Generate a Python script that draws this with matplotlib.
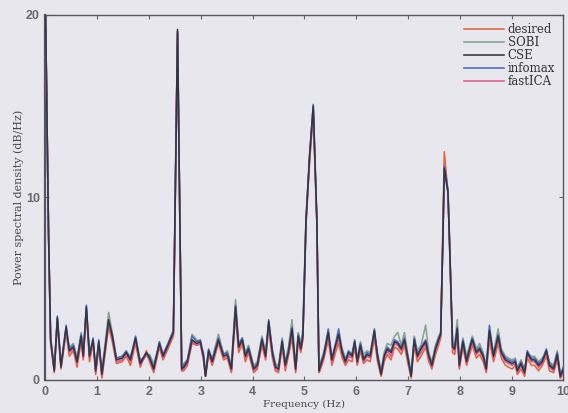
'''
power spectral density of the recovered sources vs desired signal
'''

import matplotlib
matplotlib.use('Agg')
import matplotlib.pyplot as plt

freq = [
0.00, 0.06, 0.10, 0.17, 0.23, 0.30, 0.40, 0.46, 0.54, 0.61,
0.69, 0.73, 0.79, 0.85, 0.92, 0.97, 1.03, 1.09, 1.22, 1.29,
1.37, 1.48, 1.56, 1.64, 1.74, 1.83, 1.95, 2.01, 2.09, 2.20,
2.27, 2.35, 2.41, 2.47, 2.55, 2.63, 2.67, 2.74, 2.83, 2.92,
2.99, 3.05, 3.09, 3.15, 3.22, 3.34, 3.44, 3.51, 3.59, 3.67,
3.73, 3.80, 3.86, 3.92, 4.02, 4.09, 4.18, 4.25, 4.31, 4.38,
4.44, 4.50, 4.57, 4.63, 4.69, 4.76, 4.83, 4.88, 4.93, 4.97,
5.03, 5.10, 5.17, 5.20, 5.24, 5.28, 5.30, 5.37, 5.46, 5.53,
5.60, 5.66, 5.73, 5.79, 5.85, 5.92, 5.97, 6.02, 6.08, 6.14,
6.21, 6.27, 6.35, 6.41, 6.48, 6.54, 6.60, 6.67, 6.74, 6.80,
6.87, 6.93, 6.99, 7.06, 7.12, 7.18, 7.25, 7.34, 7.40, 7.46,
7.53, 7.59, 7.63, 7.67, 7.70, 7.77, 7.80, 7.86, 7.90, 7.95,
7.99, 8.06, 8.13, 8.19, 8.24, 8.32, 8.38, 8.45, 8.51, 8.57,
8.65, 8.74, 8.80, 8.88, 8.94, 9.01, 9.07, 9.11, 9.18, 9.25,
9.30, 9.38, 9.44, 9.52, 9.59, 9.67, 9.73, 9.81, 9.88, 9.94,
10.00
]

desired = [
20.5, 8.0, 2.0, 0.4, 3.1, 0.6, 2.6, 1.3, 1.6, 0.7,
2.1, 1.1, 3.6, 1.0, 2.0, 0.3, 1.8, 0.1, 2.9, 2.1,
0.9, 1.0, 1.3, 0.8, 2.0, 0.7, 1.6, 1.0, 0.4, 1.8,
1.1, 1.6, 2.0, 2.4, 19.0, 0.5, 0.5, 0.8, 2.0, 1.9,
2.0, 1.1, 0.2, 1.4, 0.8, 2.0, 1.1, 1.2, 0.4, 3.5,
1.5, 2.0, 1.0, 1.5, 0.4, 0.6, 1.9, 1.1, 2.8, 1.2,
0.5, 0.4, 1.8, 0.5, 1.3, 2.3, 0.4, 2.1, 1.5, 2.2,
8.5, 12.0, 14.6, 12.0, 8.5, 0.4, 0.5, 1.1, 2.2, 0.8,
1.5, 2.0, 1.2, 0.8, 1.1, 1.0, 1.8, 0.8, 1.6, 0.9,
1.1, 1.0, 2.3, 1.0, 0.2, 1.0, 1.4, 1.1, 1.8, 1.7,
1.4, 1.9, 1.0, 0.1, 1.9, 1.0, 1.3, 1.8, 1.0, 0.6,
1.4, 1.9, 2.3, 8.0, 12.5, 10.3, 7.5, 1.5, 1.4, 2.4,
0.6, 1.8, 0.8, 1.4, 1.9, 1.2, 1.4, 1.0, 0.4, 2.2,
1.0, 2.0, 1.2, 0.8, 0.7, 0.6, 0.8, 0.3, 0.6, 0.2,
1.2, 0.8, 0.8, 0.5, 0.8, 1.3, 0.5, 0.4, 1.1, 0.1,
0.4
]

sobi = [
20.5, 8.0, 2.3, 0.6, 3.2, 0.9, 2.7, 1.8, 2.0, 1.2,
2.6, 1.4, 3.8, 1.5, 2.1, 0.7, 2.0, 0.5, 3.7, 2.6,
1.2, 1.3, 1.4, 1.3, 2.1, 1.1, 1.3, 1.4, 0.9, 1.9,
1.4, 1.7, 2.3, 2.7, 18.9, 0.7, 0.9, 1.1, 2.5, 2.2,
1.9, 1.5, 0.4, 1.5, 1.2, 2.5, 1.4, 1.6, 0.8, 4.4,
2.0, 2.3, 1.5, 1.9, 0.8, 1.0, 2.4, 1.5, 3.0, 1.7,
0.9, 0.8, 2.3, 1.0, 1.8, 3.3, 0.8, 2.6, 2.0, 2.8,
8.9, 12.1, 14.7, 12.1, 8.6, 0.6, 0.9, 1.5, 2.4, 1.3,
1.7, 2.3, 1.7, 1.2, 1.3, 1.5, 2.0, 1.2, 2.1, 1.4,
1.6, 1.5, 2.5, 1.5, 0.5, 1.5, 2.0, 1.9, 2.4, 2.6,
1.9, 2.6, 1.5, 0.4, 2.4, 1.6, 1.9, 3.0, 1.5, 1.0,
1.9, 2.4, 2.6, 7.3, 11.4, 10.2, 7.8, 2.0, 1.9, 3.3,
1.0, 2.3, 1.3, 1.9, 2.4, 1.7, 2.0, 1.5, 0.8, 2.5,
1.5, 2.8, 1.7, 1.3, 1.2, 1.1, 1.2, 0.7, 1.1, 0.6,
1.4, 1.3, 1.3, 1.0, 1.2, 1.5, 1.0, 0.8, 1.6, 0.3,
0.7
]

cse = [
20.5, 8.0, 2.2, 0.5, 3.4, 0.7, 2.9, 1.6, 1.8, 1.0,
2.4, 1.3, 4.0, 1.3, 2.2, 0.5, 2.1, 0.3, 3.3, 2.4,
1.1, 1.2, 1.5, 1.1, 2.3, 0.9, 1.5, 1.2, 0.6, 2.0,
1.3, 1.8, 2.2, 2.6, 19.2, 0.6, 0.7, 1.0, 2.2, 2.0,
2.1, 1.3, 0.2, 1.6, 1.0, 2.2, 1.3, 1.4, 0.6, 4.0,
1.8, 2.2, 1.3, 1.7, 0.6, 0.8, 2.2, 1.3, 3.2, 1.5,
0.7, 0.6, 2.1, 0.8, 1.5, 2.8, 0.6, 2.4, 1.7, 2.4,
8.7, 12.3, 15.0, 12.3, 8.7, 0.5, 0.7, 1.3, 2.6, 1.1,
1.9, 2.5, 1.5, 1.0, 1.5, 1.3, 2.1, 1.0, 1.9, 1.1,
1.4, 1.3, 2.7, 1.3, 0.3, 1.3, 1.7, 1.5, 2.1, 2.0,
1.7, 2.2, 1.3, 0.2, 2.2, 1.3, 1.7, 2.1, 1.3, 0.8,
1.7, 2.2, 2.5, 7.4, 11.6, 10.3, 7.6, 1.8, 1.7, 2.8,
0.8, 2.1, 1.0, 1.7, 2.2, 1.5, 1.7, 1.3, 0.6, 2.7,
1.3, 2.4, 1.5, 1.1, 1.0, 0.9, 1.0, 0.5, 0.9, 0.4,
1.5, 1.1, 1.1, 0.8, 1.0, 1.6, 0.8, 0.6, 1.4, 0.2,
0.6
]

infomax = [
20.5, 8.0, 2.3, 0.6, 3.5, 0.8, 3.0, 1.7, 1.9, 1.1,
2.5, 1.4, 4.1, 1.4, 2.3, 0.6, 2.2, 0.4, 3.2, 2.5,
1.2, 1.3, 1.6, 1.2, 2.4, 1.0, 1.5, 1.3, 0.7, 2.1,
1.4, 1.9, 2.3, 2.7, 19.1, 0.7, 0.8, 1.1, 2.4, 2.1,
2.2, 1.4, 0.3, 1.7, 1.1, 2.3, 1.4, 1.5, 0.7, 4.1,
1.9, 2.3, 1.4, 1.8, 0.7, 0.9, 2.3, 1.4, 3.3, 1.6,
0.8, 0.7, 2.2, 0.9, 1.6, 2.9, 0.7, 2.5, 1.8, 2.5,
8.8, 12.4, 15.1, 12.4, 8.8, 0.6, 0.8, 1.4, 2.8, 1.2,
2.0, 2.8, 1.6, 1.1, 1.6, 1.4, 2.2, 1.1, 2.0, 1.2,
1.5, 1.4, 2.8, 1.4, 0.4, 1.4, 1.8, 1.6, 2.2, 2.1,
1.8, 2.3, 1.4, 0.3, 2.3, 1.4, 1.8, 2.2, 1.4, 0.9,
1.8, 2.3, 2.6, 7.5, 11.7, 10.4, 7.7, 1.9, 1.8, 2.9,
0.9, 2.2, 1.1, 1.8, 2.3, 1.6, 1.8, 1.4, 0.7, 3.0,
1.4, 2.5, 1.6, 1.2, 1.1, 1.0, 1.1, 0.6, 1.0, 0.5,
1.6, 1.2, 1.2, 0.9, 1.1, 1.7, 0.9, 0.7, 1.5, 0.3,
0.7
]

fastica = [
20.5, 8.0, 2.1, 0.5, 3.3, 0.7, 2.8, 1.5, 1.7, 0.9,
2.3, 1.2, 3.9, 1.2, 2.1, 0.4, 2.0, 0.2, 3.1, 2.3,
1.0, 1.1, 1.4, 1.0, 2.2, 0.8, 1.4, 1.1, 0.5, 1.9,
1.2, 1.7, 2.1, 2.5, 19.1, 0.5, 0.6, 0.9, 2.1, 1.9,
2.0, 1.2, 0.2, 1.5, 0.9, 2.1, 1.2, 1.3, 0.5, 3.8,
1.7, 2.1, 1.2, 1.6, 0.5, 0.7, 2.1, 1.2, 3.0, 1.4,
0.6, 0.5, 2.0, 0.7, 1.4, 2.6, 0.5, 2.3, 1.6, 2.3,
8.6, 12.2, 14.9, 12.2, 8.6, 0.5, 0.6, 1.2, 2.4, 1.0,
1.7, 2.3, 1.4, 0.9, 1.3, 1.2, 2.0, 0.9, 1.8, 1.0,
1.3, 1.2, 2.5, 1.2, 0.3, 1.2, 1.6, 1.3, 2.0, 1.9,
1.6, 2.1, 1.2, 0.2, 2.1, 1.2, 1.5, 2.0, 1.2, 0.7,
1.6, 2.1, 2.4, 7.6, 11.8, 10.4, 7.6, 1.7, 1.6, 2.6,
0.7, 2.0, 0.9, 1.6, 2.1, 1.4, 1.6, 1.2, 0.5, 2.5,
1.2, 2.2, 1.4, 1.0, 0.9, 0.8, 0.9, 0.4, 0.8, 0.3,
1.4, 1.0, 1.0, 0.7, 0.9, 1.5, 0.7, 0.5, 1.3, 0.1,
0.5
]

labels = ['desired', 'SOBI', 'CSE', 'infomax', 'fastICA']
series = [desired, sobi, cse, infomax, fastica]
colors = ['#e2643e', '#86a48c', '#35353f', '#4a6cc4', '#e2568c']
zorders = [2, 3, 6, 5, 4]

bg = '#e8e7ee'

fig = plt.figure(figsize=(5.68, 4.13), dpi=100, facecolor=bg)
ax = fig.add_axes([0.080, 0.080, 0.912, 0.884], facecolor=bg)

for y, lab, c, z in zip(series, labels, colors, zorders):
    ax.plot(freq, y, color=c, lw=1.15, label=lab, zorder=z)

ax.set_xlim(0, 10)
ax.set_ylim(0, 20)
ax.set_xticks(range(0, 11))
ax.set_yticks([0, 10, 20])
ax.tick_params(direction='in', top=True, right=True, length=3, width=0.8,
               colors='#666666', labelsize=9, pad=4)
for lab in ax.get_xticklabels() + ax.get_yticklabels():
    lab.set_fontfamily('Liberation Sans')
    lab.set_fontweight('bold')
    lab.set_color('#6a6a6a')
for sp in ax.spines.values():
    sp.set_color('#55555f')
    sp.set_linewidth(1.0)
ax.spines['left'].set_linewidth(1.6)

ax.set_xlabel('Frequency (Hz)', fontfamily='DejaVu Serif', fontsize=7.5,
              color='#4a4a4a', labelpad=2)
ax.set_ylabel('Power spectral density (dB/Hz)', fontfamily='DejaVu Serif',
              fontsize=8, color='#4a4a4a', labelpad=1)

leg = ax.legend(loc='upper right', frameon=False, handlelength=3.4,
                handletextpad=0.3, labelspacing=0.0, borderaxespad=0.3,
                prop={'family': 'DejaVu Serif', 'size': 8.5})
for t in leg.get_texts():
    t.set_color('#333333')

plt.savefig('out.png', dpi=100, facecolor=bg)
